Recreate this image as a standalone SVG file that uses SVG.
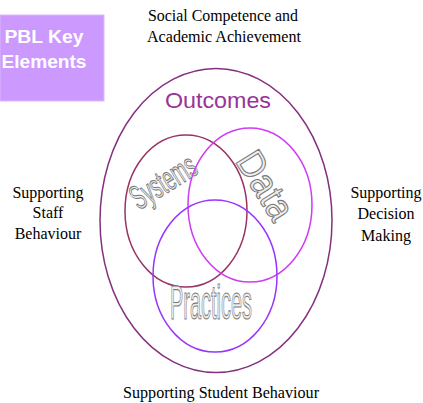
<svg xmlns="http://www.w3.org/2000/svg" width="423" height="403" viewBox="0 0 423 403">
<style>
.lbl{font-family:"Liberation Serif","Times New Roman",serif;font-size:16px;fill:#000;text-anchor:middle}
.ring{fill:none;stroke-width:1.5}
.word{font-family:"Liberation Sans",Arial,sans-serif;fill:#efefef;stroke:#7a7a7a;stroke-width:1.1;text-anchor:middle}
</style>
<rect width="423" height="403" fill="#ffffff"/>
<g id="title">
<rect x="0" y="15" width="104" height="86" fill="#CC99FF" stroke="#DDB8FF" stroke-width="1"/>
<text x="44" y="43" font-family="Liberation Sans,Arial,sans-serif" font-weight="bold" font-size="19" fill="#ffffff" text-anchor="middle" textLength="79" lengthAdjust="spacingAndGlyphs">PBL Key</text>
<text x="44" y="68" font-family="Liberation Sans,Arial,sans-serif" font-weight="bold" font-size="19" fill="#ffffff" text-anchor="middle" textLength="85" lengthAdjust="spacingAndGlyphs">Elements</text>
</g>
<g id="outcomes">
<ellipse class="ring" cx="216" cy="220.5" rx="116" ry="152" stroke="#85307F"/>
<text x="218" y="108" font-family="Liberation Sans,Arial,sans-serif" font-size="22" fill="#993399" text-anchor="middle" textLength="106" lengthAdjust="spacingAndGlyphs">Outcomes</text>
</g>
<g id="systems">
<ellipse class="ring" cx="186" cy="211" rx="61" ry="76" stroke="#993366"/>
<g transform="translate(164,183) rotate(-32)">
<text class="word" x="0" y="10" font-size="34" textLength="72" lengthAdjust="spacingAndGlyphs">Systems</text>
</g>
</g>
<g id="data">
<ellipse class="ring" cx="250" cy="205" rx="62" ry="77" stroke="#D03AF5"/>
<g transform="translate(266,185) rotate(58)">
<text class="word" x="0" y="14" font-size="39" textLength="74" lengthAdjust="spacingAndGlyphs">Data</text>
</g>
</g>
<g id="practices">
<ellipse class="ring" cx="215" cy="276" rx="62" ry="76" stroke="#9933FF"/>
<text class="word" x="211" y="319" font-size="48" textLength="82" lengthAdjust="spacingAndGlyphs">Practices</text>
</g>
<g id="labels">
<text class="lbl" x="223" y="21" textLength="150" lengthAdjust="spacingAndGlyphs">Social Competence and</text>
<text class="lbl" x="224" y="42" textLength="154" lengthAdjust="spacingAndGlyphs">Academic Achievement</text>
<text class="lbl" x="48" y="198">Supporting</text>
<text class="lbl" x="48" y="218">Staff</text>
<text class="lbl" x="48" y="239">Behaviour</text>
<text class="lbl" x="386" y="198">Supporting</text>
<text class="lbl" x="386" y="219">Decision</text>
<text class="lbl" x="386" y="241">Making</text>
<text class="lbl" x="221" y="398" textLength="196" lengthAdjust="spacingAndGlyphs">Supporting Student Behaviour</text>
</g>
<g id="connectors"></g>
</svg>
